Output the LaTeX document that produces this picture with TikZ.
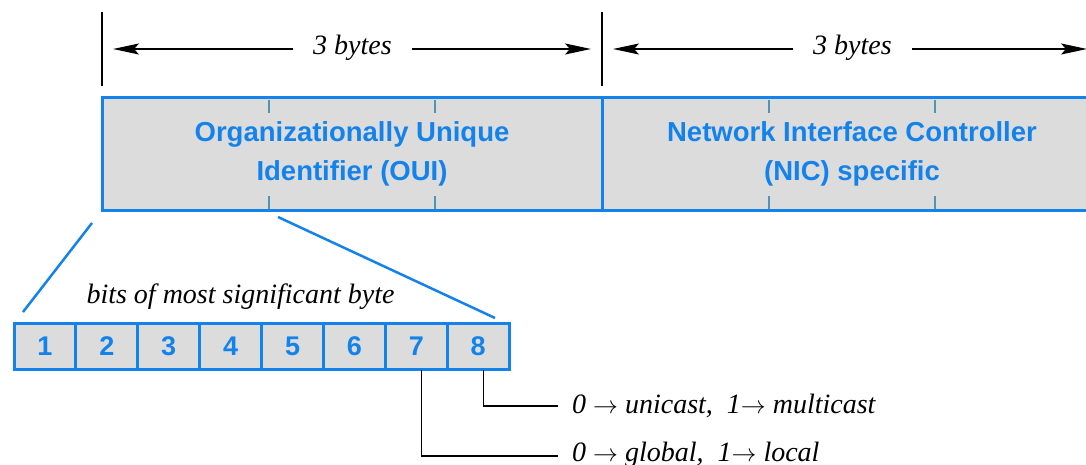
\documentclass[tikz,border=0pt]{standalone}
\usepackage{fontspec}
\setmainfont{Liberation Serif}
\setsansfont{Liberation Sans}
\usetikzlibrary{arrows.meta}
\definecolor{mblue}{RGB}{20,130,235}
\definecolor{mgray}{RGB}{220,220,220}
\definecolor{tickc}{RGB}{80,150,180}
\begin{document}
\begin{tikzpicture}[x=1pt,y=-1pt,
 field/.style={draw=mblue, fill=mgray, line width=3pt, minimum height=112pt, minimum width=500pt, inner sep=0pt, outer sep=0pt, anchor=north west},
 fieldtext/.style={text=mblue, font=\sffamily\bfseries\fontsize{27.5}{32}\selectfont, anchor=base, inner sep=0pt},
 bitcell/.style={draw=mblue, fill=mgray, line width=3pt, minimum width=61.9pt, minimum height=46pt, inner sep=0pt, outer sep=0pt, text=mblue, font=\sffamily\bfseries\fontsize{27}{30}\selectfont},
 lbl/.style={font=\itshape\fontsize{28}{32}\selectfont, inner sep=0pt},
 dimline/.style={line width=1.4pt, black},
 dimarrow/.style={line width=1.4pt, -{Stealth[length=26pt,width=11pt,inset=5pt]}},
 zoomline/.style={draw=mblue, line width=2.5pt},
 callout/.style={line width=1.3pt},
 tickmark/.style={draw=tickc, line width=1.5pt}]
\clip (0,0) rectangle (1086,465);
% top fields
\node[field] (oui) at (102,98) {};
\node[field, minimum width=520pt] (nic) at (602,98) {};
\foreach \x in {269,435,769,935} {
  \draw[tickmark] (\x,100) -- (\x,113);
  \draw[tickmark] (\x,196) -- (\x,209);
}
\node[fieldtext] (oui1) at (352,142) {Organizationally Unique};
\node[fieldtext] (oui2) at (352,181) {Identifier (OUI)};
\node[fieldtext] (nic1) at (852,142) {Network Interface Controller};
\node[fieldtext] (nic2) at (852,181) {(NIC) specific};
% dimension lines
\draw[dimline] (102,12) -- (102,86);
\draw[dimline] (602,12) -- (602,86);
\node[lbl, anchor=base] (d1) at (352.5,55) {3 bytes};
\node[lbl, anchor=base] (d2) at (852.5,55) {3 bytes};
\coordinate (d1a) at (293,49); \coordinate (d1l) at (113,49);
\coordinate (d1b) at (412,49); \coordinate (d1r) at (591,49);
\coordinate (d2a) at (793,49); \coordinate (d2l) at (613,49);
\coordinate (d2b) at (912,49); \coordinate (d2r) at (1087,49);
\draw[dimarrow] (d1a) -- (d1l);
\draw[dimarrow] (d1b) -- (d1r);
\draw[dimarrow] (d2a) -- (d2l);
\draw[dimarrow] (d2b) -- (d2r);
% bits
\foreach \i in {1,...,8} {
  \node[bitcell] (bit\i) at ({14+61.9*(\i-0.5)},346.5) {\i};
}
\node[lbl, anchor=base] (bitslbl) at (240.5,303) {bits of most significant byte};
\coordinate (z1a) at (92,223); \coordinate (z1b) at (23,312);
\coordinate (z2a) at (278,217); \coordinate (z2b) at (495,318);
\draw[zoomline] (z1a) -- (z1b);
\draw[zoomline] (z2a) -- (z2b);
% callouts
\coordinate (c8) at (558,406);
\coordinate (c7) at (558,456);
\draw[callout] ([xshift=5pt]bit8.south) |- (c8);
\draw[callout] ([xshift=5pt]bit7.south) |- (c7);
\node[lbl, anchor=base west] (uni) at (572,413) {0 $\rightarrow$ unicast,\ \ 1$\rightarrow$ multicast};
\node[lbl, anchor=base west] (glo) at (572,461) {0 $\rightarrow$ global,\ \ 1$\rightarrow$ local};
\end{tikzpicture}
\end{document}
